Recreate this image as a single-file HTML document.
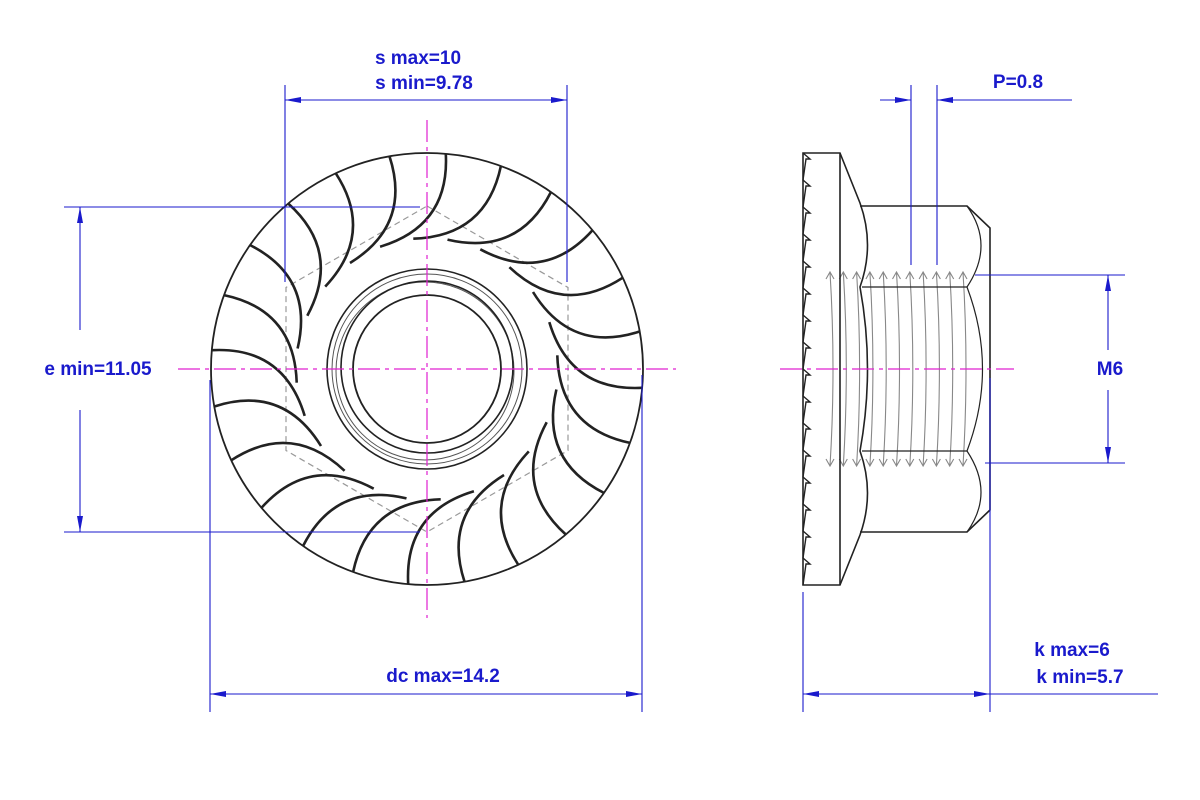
<!DOCTYPE html>
<html><head><meta charset="utf-8"><style>
html,body{margin:0;padding:0;background:#fff;}
svg{display:block;}
text{font-family:"Liberation Sans",Arial,sans-serif;font-weight:bold;font-size:19px;fill:#1a1acc;}
</style></head><body>
<svg id="s" width="1200" height="800" viewBox="0 0 1200 800" xmlns="http://www.w3.org/2000/svg">
<defs>
<marker id="a" markerWidth="16" markerHeight="8" refX="16" refY="4" orient="auto" markerUnits="userSpaceOnUse"><path d="M0,1 L16,4 L0,7 Z" fill="#1a1acc"/></marker>
<marker id="b" markerWidth="16" markerHeight="8" refX="0" refY="4" orient="auto" markerUnits="userSpaceOnUse"><path d="M16,1 L0,4 L16,7 Z" fill="#1a1acc"/></marker>
</defs>
<g id="left" fill="none" stroke="#222">
<circle cx="427" cy="369" r="216" stroke-width="1.8"/>
<polygon points="427,206 568,287.5 568,450.5 427,532 286,450.5 286,287.5" stroke="#999" stroke-dasharray="6,4" stroke-width="1.2"/>
<circle cx="427" cy="369" r="100" stroke-width="1.6"/>
<circle cx="427" cy="369" r="95" stroke-width="1" stroke="#555"/>
<circle cx="425" cy="371" r="89" stroke-width="1" stroke="#555"/>
<circle cx="427" cy="367" r="86" stroke-width="1.6"/>
<circle cx="427" cy="369" r="74" stroke-width="1.8"/>
<g id="ser" stroke-width="2.6"></g>
</g>
<g id="right" fill="none" stroke="#222" stroke-width="1.6">
<g id="thr" stroke="#888" stroke-width="1.1"></g>
<path d="M803,153 L840,153 L860,203 Q875,245 860,287 Q875,369 860,451 Q875,493 860,535 L840,585 L803,585 Z"/>
<line x1="840" y1="153" x2="840" y2="585"/>
<path d="M860,206 L967,206 L990,228 L990,510 L967,532 L860,532"/>
<path d="M967,206 Q995,245 967,287 Q998,369 967,451 Q995,493 967,532" stroke-width="1.2"/>
<line x1="862" y1="287" x2="967" y2="287" stroke-width="1.2"/>
<line x1="862" y1="451" x2="967" y2="451" stroke-width="1.2"/>
<g id="teeth" stroke-width="1.4"></g>
</g>
<g stroke="#e020d0" stroke-width="1.2" stroke-dasharray="22,5,4,5" fill="none">
<line x1="178" y1="369" x2="676" y2="369"/>
<line x1="427" y1="120" x2="427" y2="618"/>
<line x1="780" y1="369" x2="1014" y2="369"/>
</g>
<g stroke="#1a1acc" stroke-width="1.1" fill="none">
<line x1="285" y1="85" x2="285" y2="282"/>
<line x1="567" y1="85" x2="567" y2="282"/>
<line x1="285" y1="100" x2="567" y2="100" marker-start="url(#b)" marker-end="url(#a)"/>
<line x1="64" y1="207" x2="420" y2="207"/>
<line x1="64" y1="532" x2="420" y2="532"/>
<line x1="80" y1="207" x2="80" y2="330" marker-start="url(#b)"/>
<line x1="80" y1="410" x2="80" y2="532" marker-end="url(#a)"/>
<line x1="210" y1="380" x2="210" y2="712"/>
<line x1="642" y1="375" x2="642" y2="712"/>
<line x1="210" y1="694" x2="642" y2="694" marker-start="url(#b)" marker-end="url(#a)"/>
<line x1="911" y1="85" x2="911" y2="265"/>
<line x1="937" y1="85" x2="937" y2="265"/>
<line x1="880" y1="100" x2="911" y2="100" marker-end="url(#a)"/>
<line x1="1072" y1="100" x2="937" y2="100" marker-end="url(#a)"/>
<line x1="975" y1="275" x2="1125" y2="275"/>
<line x1="985" y1="463" x2="1125" y2="463"/>
<line x1="1108" y1="275" x2="1108" y2="350" marker-start="url(#b)"/>
<line x1="1108" y1="390" x2="1108" y2="463" marker-end="url(#a)"/>
<line x1="803" y1="592" x2="803" y2="712"/>
<line x1="990" y1="378" x2="990" y2="712"/>
<line x1="803" y1="694" x2="990" y2="694" marker-start="url(#b)" marker-end="url(#a)"/>
<line x1="990" y1="694" x2="1158" y2="694"/>
</g>
<text x="418" y="64" text-anchor="middle">s max=10</text>
<text x="424" y="89" text-anchor="middle">s min=9.78</text>
<text x="98" y="375" text-anchor="middle">e min=11.05</text>
<text x="443" y="682" text-anchor="middle">dc max=14.2</text>
<text x="1018" y="88" text-anchor="middle">P=0.8</text>
<text x="1110" y="375" text-anchor="middle">M6</text>
<text x="1072" y="656" text-anchor="middle">k max=6</text>
<text x="1080" y="683" text-anchor="middle">k min=5.7</text>
</svg>
<script>
var NS="http://www.w3.org/2000/svg";
function P(r,a){a=a*Math.PI/180;return [427+r*Math.cos(a),369+r*Math.sin(a)];}
var g=document.getElementById("ser"),N=24;
for(var i=0;i<N;i++){var f=-96+i*360/N;
var p0=P(131,f),p1=P(216,f+26),c=P(145,f+30);
var e=document.createElementNS(NS,"path");
e.setAttribute("d","M"+p0[0].toFixed(1)+","+p0[1].toFixed(1)+" Q"+c[0].toFixed(1)+","+c[1].toFixed(1)+" "+p1[0].toFixed(1)+","+p1[1].toFixed(1));
g.appendChild(e);}
var t=document.getElementById("thr");
for(var x=830;x<=975;x+=13.3){var e=document.createElementNS(NS,"path");
e.setAttribute("d","M"+x+",272 Q"+(x+6)+",369 "+x+",466 M"+(x-4)+",279 L"+x+",272 L"+(x+4)+",279 M"+(x-4)+",459 L"+x+",466 L"+(x+4)+",459");
t.appendChild(e);}
var th=document.getElementById("teeth"),d="M803,153";
for(var y=153;y<585;y+=27){d+=" L810,"+(y+6)+" L806,"+(y+6)+" L803,"+(y+27);}
var e=document.createElementNS(NS,"path");e.setAttribute("d",d);th.appendChild(e);
</script>
</body></html>
